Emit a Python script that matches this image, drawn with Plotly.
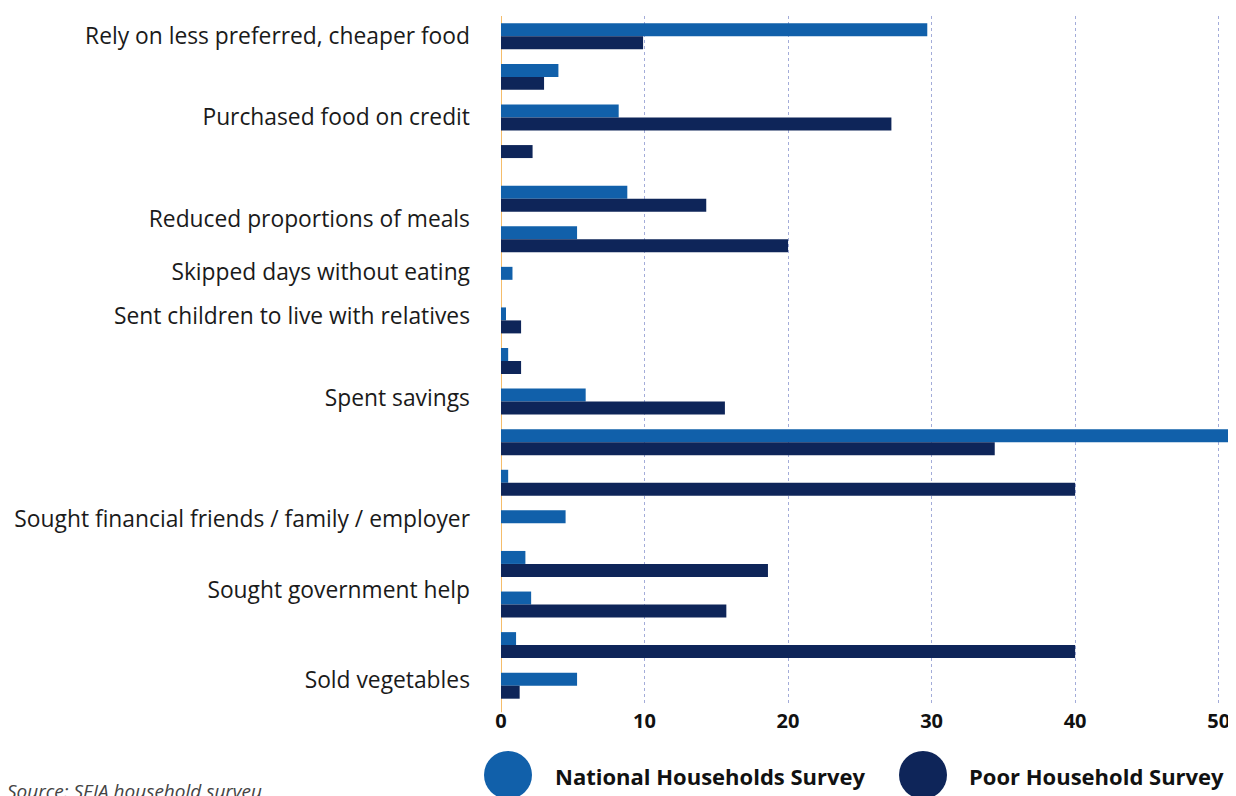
import plotly.graph_objects as go

# ---- data ----
rows = list(range(17))  # bar groups, top to bottom
national = [29.7, 4.0, 8.2, None, 8.8, 5.3, 0.8, 0.35, 0.5, 5.9, 51.0, 0.5, 4.5, 1.7, 2.1, 1.05, 5.3]
poor = [9.9, 3.0, 27.2, 2.2, 14.3, 20.0, None, 1.4, 1.4, 15.6, 34.4, 40.0, None, 18.6, 15.7, 40.0, 1.3]
series_names = ["National Households Survey", "Poor Household Survey"]

tick_labels = [
    "Rely on less preferred, cheaper food",
    "Purchased food on credit",
    "Reduced proportions of meals",
    "Skipped days without eating",
    "Sent children to live with relatives",
    "Spent savings",
    "Sought financial friends / family / employer",
    "Sought government help",
    "Sold vegetables",
]
tick_rows = [0, 2, 4.5, 5.8, 6.9, 8.9, 11.9, 13.65, 15.85]
x_ticks = [0, 10, 20, 30, 40, 50]
source_text = "Source: SEIA household surveu"

# ---- style ----
C_NAT = "#1160aa"
C_POOR = "#0e2559"
W = 0.32
FONT = "Open Sans"

# page body has an 8px margin; figure is sized so it ends at the window edge
OFF = 8
FIG_W, FIG_H = 1236 - OFF, 796 - OFF
PLOT_L, PLOT_R, PLOT_T, PLOT_B = 501 - OFF, 1233 - OFF, 16 - OFF, 706 - OFF

poor_offset = [-W if n is None else 0 for n in national]

fig = go.Figure()
fig.add_trace(go.Bar(
    y=rows, x=national, orientation="h", name=series_names[0],
    marker=dict(color=C_NAT, line=dict(width=0)), width=W, offset=-W,
    showlegend=False, hoverinfo="x+name",
))
fig.add_trace(go.Bar(
    y=rows, x=poor, orientation="h", name=series_names[1],
    marker=dict(color=C_POOR, line=dict(width=0)), width=W, offset=poor_offset,
    showlegend=False, hoverinfo="x+name",
))

fig.update_layout(
    width=FIG_W, height=FIG_H,
    margin=dict(l=PLOT_L, r=FIG_W - PLOT_R, t=PLOT_T, b=FIG_H - PLOT_B, pad=0),
    barmode="overlay",
    plot_bgcolor="white", paper_bgcolor="white",
    font=dict(family=FONT, color="#1a1a1a"),
)
fig.update_xaxes(
    range=[0, 51], tickvals=x_ticks, showgrid=True, gridcolor="#a3acd9",
    griddash="dot", gridwidth=1, zeroline=False, showline=False,
    tickfont=dict(family=FONT, size=20, color="#111111", weight="bold"),
    ticks="", ticklabelstandoff=1,
)
fig.update_yaxes(
    range=[16.5, -0.5], tickmode="array", tickvals=tick_rows, ticktext=tick_labels,
    showgrid=False, zeroline=False, showline=False, ticks="",
    tickfont=dict(family=FONT, size=22.8, color="#1a1a1a"),
    ticklabelstandoff=30,
)

# zero line (orange)
fig.add_shape(type="line", xref="x", yref="paper", x0=0, x1=0, y0=-0.009, y1=1.0,
              line=dict(color="#f2a73a", width=1.5), layer="between")

PW = PLOT_R - PLOT_L
PH = PLOT_B - PLOT_T


def px_x(p):
    return (p - OFF - PLOT_L) / PW


def px_y(p):
    return (PLOT_B - (p - OFF)) / PH


# manual legend with large circles
for name, color, cx, tx in [(series_names[0], C_NAT, 508, 553), (series_names[1], C_POOR, 923, 967)]:
    fig.add_shape(type="circle", xref="paper", yref="paper",
                  xsizemode="pixel", ysizemode="pixel",
                  xanchor=px_x(cx), yanchor=px_y(775),
                  x0=-24, x1=24, y0=-24, y1=24,
                  fillcolor=color, line=dict(width=0))
    fig.add_annotation(text=name, xref="paper", yref="paper", x=px_x(tx), y=px_y(776),
                       xanchor="left", yanchor="middle", showarrow=False,
                       font=dict(family=FONT, size=22, color="#111111", weight="bold"))

fig.add_annotation(text="<i>" + source_text + "</i>", xref="paper", yref="paper",
                   x=px_x(5), y=px_y(791), xanchor="left", yanchor="middle", showarrow=False,
                   font=dict(family=FONT, size=19, color="#444444"))

fig.write_html("out.html")
